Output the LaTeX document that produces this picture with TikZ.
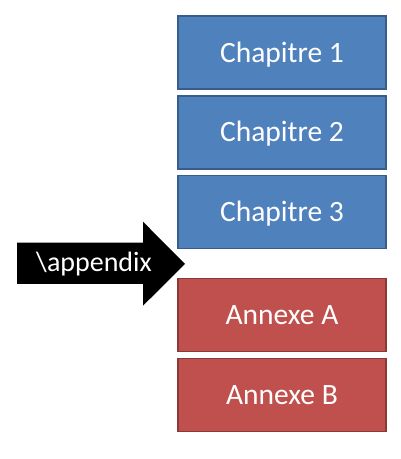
\documentclass[tikz,border=0pt]{standalone}
\usepackage{fontspec}
\setmainfont{Carlito}
\definecolor{chapfill}{HTML}{4F81BD}
\definecolor{chapline}{HTML}{385D8A}
\definecolor{annfill}{HTML}{C0504D}
\definecolor{annline}{HTML}{8C3836}
\begin{document}
\begin{tikzpicture}[x=1pt,y=1pt]
  \tikzstyle{part}=[rectangle,line width=1.5pt,minimum width=208pt,minimum height=73pt,text height=19pt,text depth=0pt,text=white,font=\fontsize{29.5}{34}\selectfont]
  \tikzstyle{chap}=[part,draw=chapline,fill=chapfill]
  \tikzstyle{annex}=[part,draw=annline,fill=annfill]
  \useasboundingbox (0,0) rectangle (400,459);

  \node[chap] (C_1) at (282,406.25) {Chapitre 1};
  \node[chap] (C_2) at (282,326.5) {Chapitre 2};
  \node[chap] (C_3) at (282,247) {Chapitre 3};

  \node[annex] (A_1) at (282,143.75) {Annexe A};
  \node[annex] (A_2) at (282,63.75) {Annexe B};

  % the black arrow
  \fill[black] (17,216.3) -- (143,216.3) -- (143,237.3) -- (185,195)
    -- (143,153.3) -- (143,175) -- (17,175) -- cycle;
  \node[text=white,font=\fontsize{28}{34}\selectfont] (appx) at (94,195) {\textbackslash appendix};
\end{tikzpicture}
\end{document}
